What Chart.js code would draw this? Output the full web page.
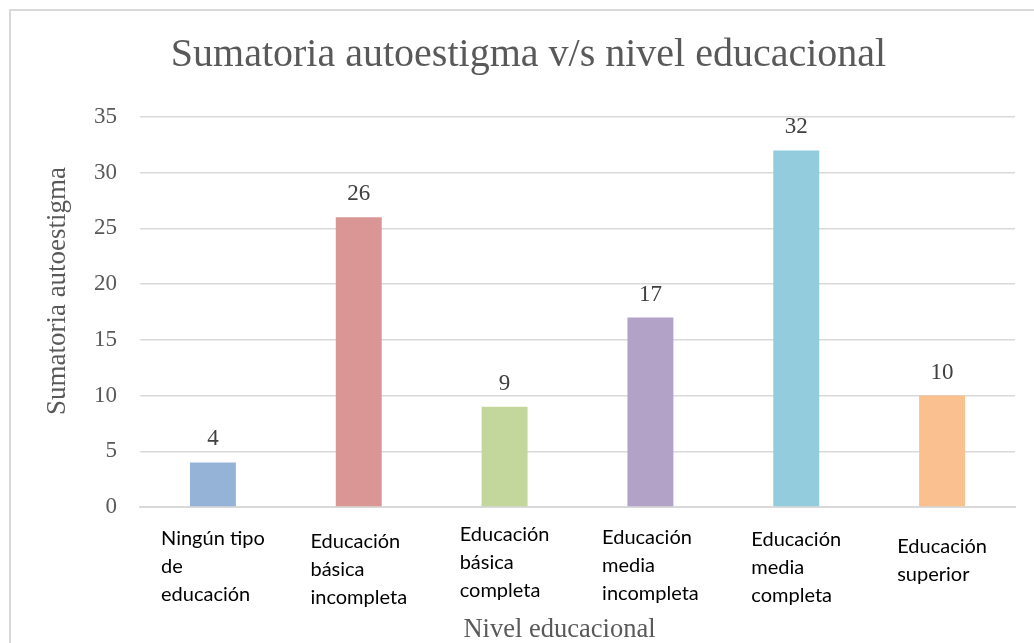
<!DOCTYPE html>
<html>
<head>
<meta charset="utf-8">
<script src="https://cdn.jsdelivr.net/npm/chart.js@4.4.4/dist/chart.umd.min.js"></script>
<style>
    html, body { margin: 0; padding: 0; background: #ffffff; }
    #frame {
        position: absolute;
        left: 9px;
        top: 9px;
        width: 1023px;
        height: 632px;
        border-left: 2px solid #d9d9d9;
        border-top: 2px solid #d9d9d9;
    }
    #chart { display: block; }
</style>
</head>
<body>
<div id="frame"><canvas id="chart" width="1023" height="632"></canvas></div>
<script>
const categories = [
    ["Ningún tipo", "de", "educación"],
    ["Educación", "básica", "incompleta"],
    ["Educación", "básica", "completa"],
    ["Educación", "media", "incompleta"],
    ["Educación", "media", "completa"],
    ["Educación", "superior"]
];
const values = [4, 26, 9, 17, 32, 10];
const barColors = ["#95b3d7", "#d99694", "#c3d69b", "#b3a2c7", "#93cddd", "#fac090"];

const chartTitle = "Sumatoria autoestigma v/s nivel educacional";
const yTitle = "Sumatoria autoestigma";
const xTitle = "Nivel educacional";

const serif = "'Liberation Serif', 'DejaVu Serif', serif";
const sans = "Lato, 'Open Sans', sans-serif";

// small vertical nudges of each label box, as in the original text boxes
const labelDy = [0, 3, -4, -1, 1, 8];

const valueLabels = {
    id: "valueLabels",
    afterDatasetsDraw(chart) {
        const { ctx } = chart;
        const meta = chart.getDatasetMeta(0);
        ctx.save();
        ctx.font = `23px ${serif}`;
        ctx.fillStyle = "#404040";
        ctx.textAlign = "center";
        ctx.textBaseline = "alphabetic";
        meta.data.forEach((bar, i) => {
            ctx.fillText(String(values[i]), bar.x, bar.y - 17);
        });
        ctx.restore();
    }
};

// axis titles sit a little off the plot centre in the original, so draw them here
const axisTitles = {
    id: "axisTitles",
    afterDraw(chart) {
        const { ctx, chartArea } = chart;
        ctx.save();
        ctx.fillStyle = "#595959";
        ctx.textAlign = "center";
        ctx.textBaseline = "middle";
        ctx.font = `27px ${serif}`;
        ctx.translate(47, chartArea.top + (chartArea.bottom - chartArea.top) / 2 - 21);
        ctx.rotate(-Math.PI / 2);
        ctx.fillText(yTitle, 0, 0);
        ctx.restore();

        ctx.save();
        ctx.fillStyle = "#595959";
        ctx.textAlign = "center";
        ctx.textBaseline = "alphabetic";
        ctx.font = `26.5px ${serif}`;
        ctx.fillText(xTitle, (chartArea.left + chartArea.right) / 2 - 18, chart.height - 6);
        ctx.restore();
    }
};

const categoryLabels = {
    id: "categoryLabels",
    afterDraw(chart) {
        const { ctx } = chart;
        const xScale = chart.scales.x;
        const top = chart.chartArea.bottom;
        ctx.save();
        ctx.font = `20px ${sans}`;
        ctx.fillStyle = "#000000";
        ctx.textAlign = "left";
        ctx.textBaseline = "alphabetic";
        categories.forEach((lines, i) => {
            const cx = xScale.getPixelForValue(i);
            const w = Math.max(...lines.map(l => ctx.measureText(l).width));
            const left = cx - w / 2;
            lines.forEach((line, j) => {
                ctx.fillText(line, left, top + 38 + labelDy[i] + j * 28);
            });
        });
        ctx.restore();
    }
};

new Chart(document.getElementById("chart"), {
    type: "bar",
    data: {
        labels: categories,
        datasets: [
            {
                label: yTitle,
                data: values,
                backgroundColor: barColors,
                borderWidth: 0,
                barPercentage: 0.315,
                categoryPercentage: 1
            }
        ]
    },
    options: {
        responsive: false,
        animation: false,
        layout: {
            padding: { left: 12, right: 0, top: 0, bottom: 0 }
        },
        plugins: {
            legend: { display: false },
            tooltip: { enabled: false },
            title: {
                display: true,
                text: chartTitle,
                color: "#595959",
                font: { family: serif, size: 40, weight: "normal" },
                padding: { top: 20, bottom: 38 }
            }
        },
        scales: {
            x: {
                grid: { display: false },
                border: { display: true, color: "#d9d9d9", width: 2 },
                ticks: { display: false },
                afterFit(scale) {
                    scale.height = 136;
                }
            },
            y: {
                min: 0,
                max: 35,
                ticks: {
                    stepSize: 5,
                    color: "#595959",
                    font: { family: serif, size: 23 },
                    padding: 23
                },
                grid: {
                    color: "#d9d9d9",
                    lineWidth: 1.5,
                    drawTicks: false
                },
                border: { display: false },
                afterFit(scale) {
                    scale.width = 117;
                }
            },
            yRight: {
                position: "right",
                min: 0,
                max: 35,
                ticks: { display: false },
                grid: { display: false },
                border: { display: false },
                afterFit(scale) {
                    scale.width = 19;
                }
            }
        }
    },
    plugins: [valueLabels, axisTitles, categoryLabels]
});
</script>
</body>
</html>
